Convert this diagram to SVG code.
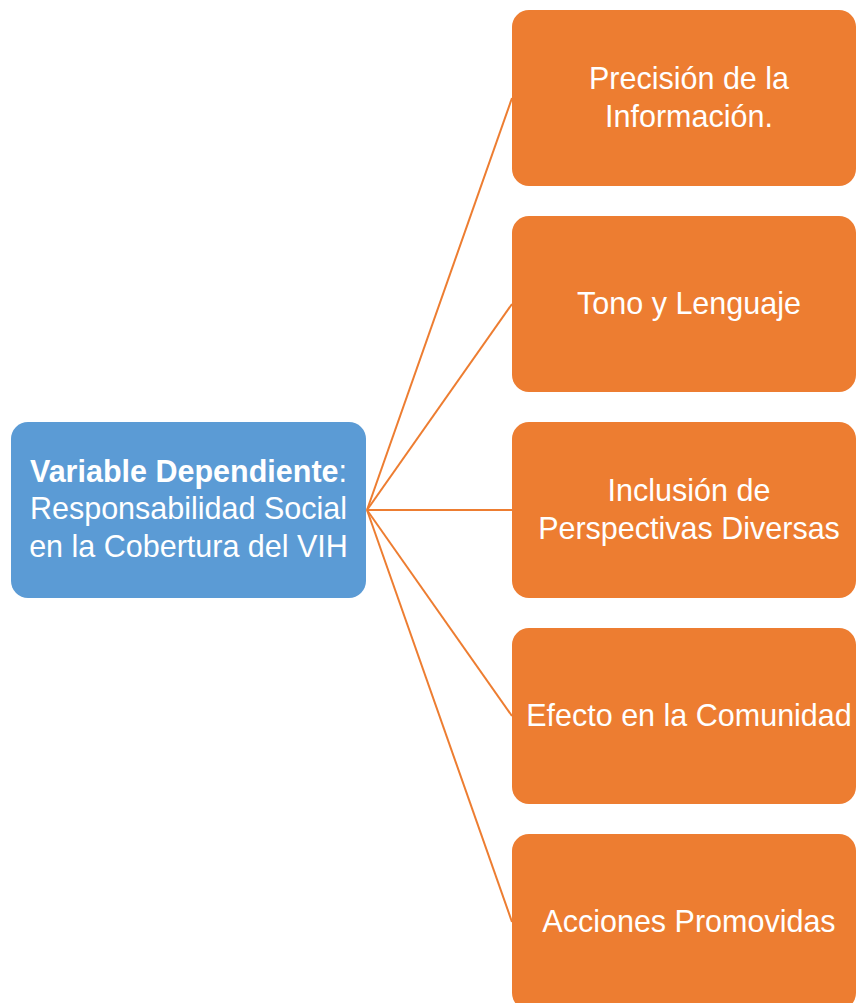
<svg xmlns="http://www.w3.org/2000/svg" width="857" height="1003" viewBox="0 0 857 1003">
<style>
.box{fill:#ED7D31;}
.root{fill:#5B9BD5;}
.t{font-family:"Liberation Sans",Arial,sans-serif;font-size:30.5px;fill:#ffffff;text-anchor:middle;}
.c{stroke:#ED7D31;stroke-width:2;fill:none;}
</style>
<rect width="857" height="1003" fill="#ffffff"/>
<g id="connectors">
<line class="c" x1="367" y1="510" x2="512" y2="98"/>
<line class="c" x1="367" y1="510" x2="512" y2="304"/>
<line class="c" x1="367" y1="510" x2="512" y2="510"/>
<line class="c" x1="367" y1="510" x2="512" y2="716"/>
<line class="c" x1="367" y1="510" x2="512" y2="922"/>
</g>
<g id="root">
<rect class="root" x="11" y="422" width="355" height="176" rx="17"/>
<text class="t" x="188.5" y="482"><tspan font-weight="bold">Variable Dependiente</tspan>:</text>
<text class="t" x="188.5" y="519">Responsabilidad Social</text>
<text class="t" x="188.5" y="557">en la Cobertura del VIH</text>
</g>
<g id="n1">
<rect class="box" x="512" y="10" width="344" height="176" rx="17"/>
<text class="t" x="689" y="89">Precisión de la</text>
<text class="t" x="689" y="127">Información.</text>
</g>
<g id="n2">
<rect class="box" x="512" y="216" width="344" height="176" rx="17"/>
<text class="t" x="689" y="314">Tono y Lenguaje</text>
</g>
<g id="n3">
<rect class="box" x="512" y="422" width="344" height="176" rx="17"/>
<text class="t" x="689" y="501">Inclusión de</text>
<text class="t" x="689" y="539">Perspectivas Diversas</text>
</g>
<g id="n4">
<rect class="box" x="512" y="628" width="344" height="176" rx="17"/>
<text class="t" x="689" y="726">Efecto en la Comunidad</text>
</g>
<g id="n5">
<rect class="box" x="512" y="834" width="344" height="176" rx="17"/>
<text class="t" x="689" y="932">Acciones Promovidas</text>
</g>
</svg>
